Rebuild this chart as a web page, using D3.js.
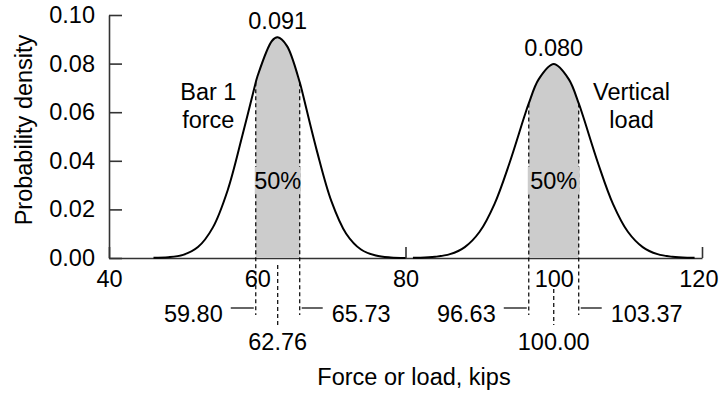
<!DOCTYPE html>
<html>
<head>
<meta charset="utf-8">
<script src="https://cdn.jsdelivr.net/npm/d3@7"></script>
<style>
  body { margin: 0; background: #fff; }
  text { font-family: "Liberation Sans", Arial, sans-serif; fill: #000; }
</style>
</head>
<body>
<script>
// Bar 1 force curve (kips, density)
const force_x = [46, 48, 50, 52, 54, 56, 58, 59.80, 60, 62, 62.76, 64, 65.73, 66, 68, 70, 72, 74, 76, 78, 80]
const force_y = [0.0001, 0.0003, 0.0013, 0.0045, 0.0125, 0.0278, 0.0505, 0.0723, 0.0745, 0.0894, 0.0908, 0.0873, 0.0723, 0.0692, 0.0446, 0.0234, 0.0100, 0.0035, 0.0010, 0.0002, 0.0000]

// Vertical load curve
const load_x = [81, 82, 84, 86, 88, 90, 92, 94, 96, 96.63, 98, 100, 102, 103.37, 104, 106, 108, 110, 112, 114, 116, 118, 119]
const load_y = [0.0001, 0.0001, 0.0005, 0.0016, 0.0045, 0.0108, 0.0222, 0.0388, 0.0579, 0.0636, 0.0737, 0.0798, 0.0737, 0.0636, 0.0579, 0.0388, 0.0222, 0.0108, 0.0045, 0.0016, 0.0005, 0.0001, 0.0001]

const names = [["Bar 1", "force"], ["Vertical", "load"]]
const peak_labels = ["0.091", "0.080"]
const means = [62.76, 100.00]
const q_low = [59.80, 96.63]
const q_high = [65.73, 103.37]
const shaded_labels = ["50%", "50%"]

const x_ticks = [40, 60, 80, 100, 120]
const y_ticks = [0, 0.02, 0.04, 0.06, 0.08, 0.10]

const width = 719, height = 396
const font_size = 23.5
const shade = "#cccccc"

const x = d3.scaleLinear().domain([40, 120]).range([109, 702])
const y = d3.scaleLinear().domain([0, 0.1]).range([258, 15])

const svg = d3.select("body").append("svg")
    .attr("width", width).attr("height", height)

const curves = [
    force_x.map((v, i) => ({ x: v, y: force_y[i] })),
    load_x.map((v, i) => ({ x: v, y: load_y[i] }))
]

// axes
const xAxis = svg.append("g")
    .attr("transform", `translate(0,${y(0)})`)
    .call(d3.axisBottom(x).tickValues(x_ticks).tickSize(-11).tickSizeOuter(0).tickPadding(12))
const yAxis = svg.append("g")
    .attr("transform", `translate(${x(40)},0)`)
    .call(d3.axisLeft(y).tickValues(y_ticks).tickFormat(d3.format(".2f")).tickSize(-13).tickSizeOuter(0).tickPadding(14))

for (const g of [xAxis, yAxis]) {
    g.selectAll("path, line").attr("stroke", "#333").attr("stroke-width", 1.6)
    g.selectAll("text").attr("font-size", font_size).attr("font-family", null)
}
// last label sits against the right edge
xAxis.selectAll(".tick text").filter(d => d === 120)
    .attr("text-anchor", "end").attr("x", 16)

const line = d3.line().x(d => x(d.x)).y(d => y(d.y)).curve(d3.curveCatmullRom)
const area = d3.area().x(d => x(d.x)).y0(y(0)).y1(d => y(d.y)).curve(d3.curveCatmullRom)

const dens_at = (pts, v) => pts.find(p => p.x === v).y

curves.forEach((pts, i) => {
    // shaded middle 50%
    const mid = pts.filter(p => p.x >= q_low[i] && p.x <= q_high[i])
    svg.append("path")
        .attr("d", area(mid))
        .attr("fill", shade)

    svg.append("path")
        .attr("d", line(pts))
        .attr("fill", "none")
        .attr("stroke", "#000")
        .attr("stroke-width", 2)

    // quartile dashed lines
    for (const q of [q_low[i], q_high[i]]) {
        svg.append("line")
            .attr("x1", x(q)).attr("x2", x(q))
            .attr("y1", y(dens_at(pts, q))).attr("y2", y(0) + 57)
            .attr("stroke", "#000").attr("stroke-width", 1.2)
            .attr("stroke-dasharray", "4,3")
    }
    // mean dashed line below axis
    svg.append("line")
        .attr("x1", x(means[i])).attr("x2", x(means[i]))
        .attr("y1", i === 0 ? y(0) + 7 : y(0) + 31).attr("y2", y(0) + 67)
        .attr("stroke", "#000").attr("stroke-width", 1.2)
        .attr("stroke-dasharray", "4,3")

    // leader lines + quartile labels
    svg.append("line")
        .attr("x1", x(q_low[i]) - 25).attr("x2", x(q_low[i]) - 2)
        .attr("y1", y(0) + 50).attr("y2", y(0) + 50)
        .attr("stroke", "#000").attr("stroke-width", 1.2)
    svg.append("line")
        .attr("x1", x(q_high[i]) + 2).attr("x2", x(q_high[i]) + 23)
        .attr("y1", y(0) + 50).attr("y2", y(0) + 50)
        .attr("stroke", "#000").attr("stroke-width", 1.2)
    svg.append("text")
        .attr("x", x(q_low[i]) - 33).attr("y", y(0) + 64)
        .attr("text-anchor", "end").attr("font-size", font_size)
        .text(q_low[i].toFixed(2))
    svg.append("text")
        .attr("x", x(q_high[i]) + 32).attr("y", y(0) + 64)
        .attr("text-anchor", "start").attr("font-size", font_size)
        .text(q_high[i].toFixed(2))
    svg.append("text")
        .attr("x", x(means[i])).attr("y", y(0) + 92)
        .attr("text-anchor", "middle").attr("font-size", font_size)
        .text(means[i].toFixed(2))

    // 50% label with shaded backing
    svg.append("rect")
        .attr("x", x(q_low[i]) - 1).attr("y", 167)
        .attr("width", x(q_high[i]) - x(q_low[i]) + 2).attr("height", 27)
        .attr("fill", shade)
    svg.append("text")
        .attr("x", x(means[i])).attr("y", 189)
        .attr("text-anchor", "middle").attr("font-size", font_size)
        .text(shaded_labels[i])

    // peak value
    svg.append("text")
        .attr("x", x(means[i])).attr("y", y(dens_at(pts, means[i])) - 8)
        .attr("text-anchor", "middle").attr("font-size", font_size)
        .text(peak_labels[i])
})

// curve names
const name_x = [53.4, 110.5]
names.forEach((n, i) => {
    svg.append("text")
        .attr("x", x(name_x[i])).attr("y", 100)
        .attr("text-anchor", "middle").attr("font-size", font_size)
        .text(n[0])
    svg.append("text")
        .attr("x", x(name_x[i])).attr("y", 128)
        .attr("text-anchor", "middle").attr("font-size", font_size)
        .text(n[1])
})

// axis titles
svg.append("text")
    .attr("x", 414).attr("y", 385)
    .attr("text-anchor", "middle").attr("font-size", font_size)
    .text("Force or load, kips")
svg.append("text")
    .attr("transform", "translate(32,130) rotate(-90)")
    .attr("text-anchor", "middle").attr("font-size", font_size)
    .text("Probability density")
</script>
</body>
</html>
